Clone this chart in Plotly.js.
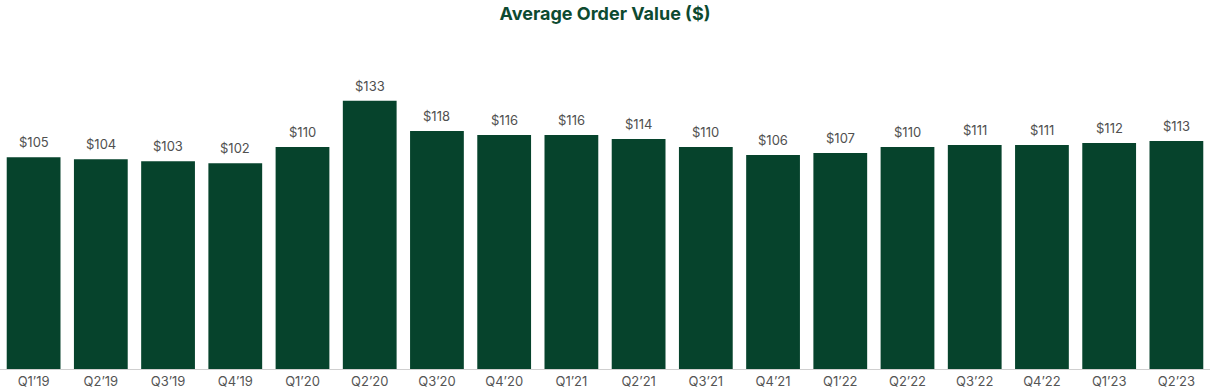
<!DOCTYPE html>
<html>
<head>
<meta charset="utf-8">
<script src="https://cdn.plot.ly/plotly-3.0.1.min.js"></script>
<style>html,body{margin:0;padding:0;background:#fff;}#chart{width:1210px;height:390px;}</style>
</head>
<body>
<div id="chart"></div>
<script>
const quarters = ["Q1’19","Q2’19","Q3’19","Q4’19","Q1’20","Q2’20","Q3’20","Q4’20","Q1’21","Q2’21","Q3’21","Q4’21","Q1’22","Q2’22","Q3’22","Q4’22","Q1’23","Q2’23"];
const aov = [105,104,103,102,110,133,118,116,116,114,110,106,107,110,111,111,112,113];
const labels = aov.map(v => "$" + v);

const trace = {
  type: "bar",
  x: quarters,
  y: aov,
  marker: {color: "#06432c"},
  hoverinfo: "x+y"
};

const annotations = quarters.map((q, i) => ({
  x: q, y: aov[i], xref: "x", yref: "y",
  text: labels[i], showarrow: false,
  yanchor: "bottom", xanchor: "center", yshift: 5,
  font: {family: "Inter, sans-serif", size: 13, color: "#505050"}
}));

const layout = {
  width: 1210, height: 390,
  margin: {l: 0, r: 0, t: 30, b: 21},
  paper_bgcolor: "#fff", plot_bgcolor: "#fff",
  bargap: 0.2,
  showlegend: false,
  annotations: annotations,
  title: {text: "<b>Average Order Value ($)</b>", x: 0.5, xanchor: "center", y: 0.965, yanchor: "middle",
          font: {family: "Inter, sans-serif", size: 18, color: "#0d4a30"}},
  xaxis: {type: "category", showline: true, linecolor: "#cfcfcf", linewidth: 1, ticks: "",
          tickfont: {family: "Inter, sans-serif", size: 13, color: "#555"}, showgrid: false, zeroline: false, fixedrange: true},
  yaxis: {range: [0, 168], visible: false, showgrid: false, zeroline: false, fixedrange: true}
};

Plotly.newPlot("chart", [trace], layout, {displayModeBar: false, staticPlot: true});
</script>
</body>
</html>
